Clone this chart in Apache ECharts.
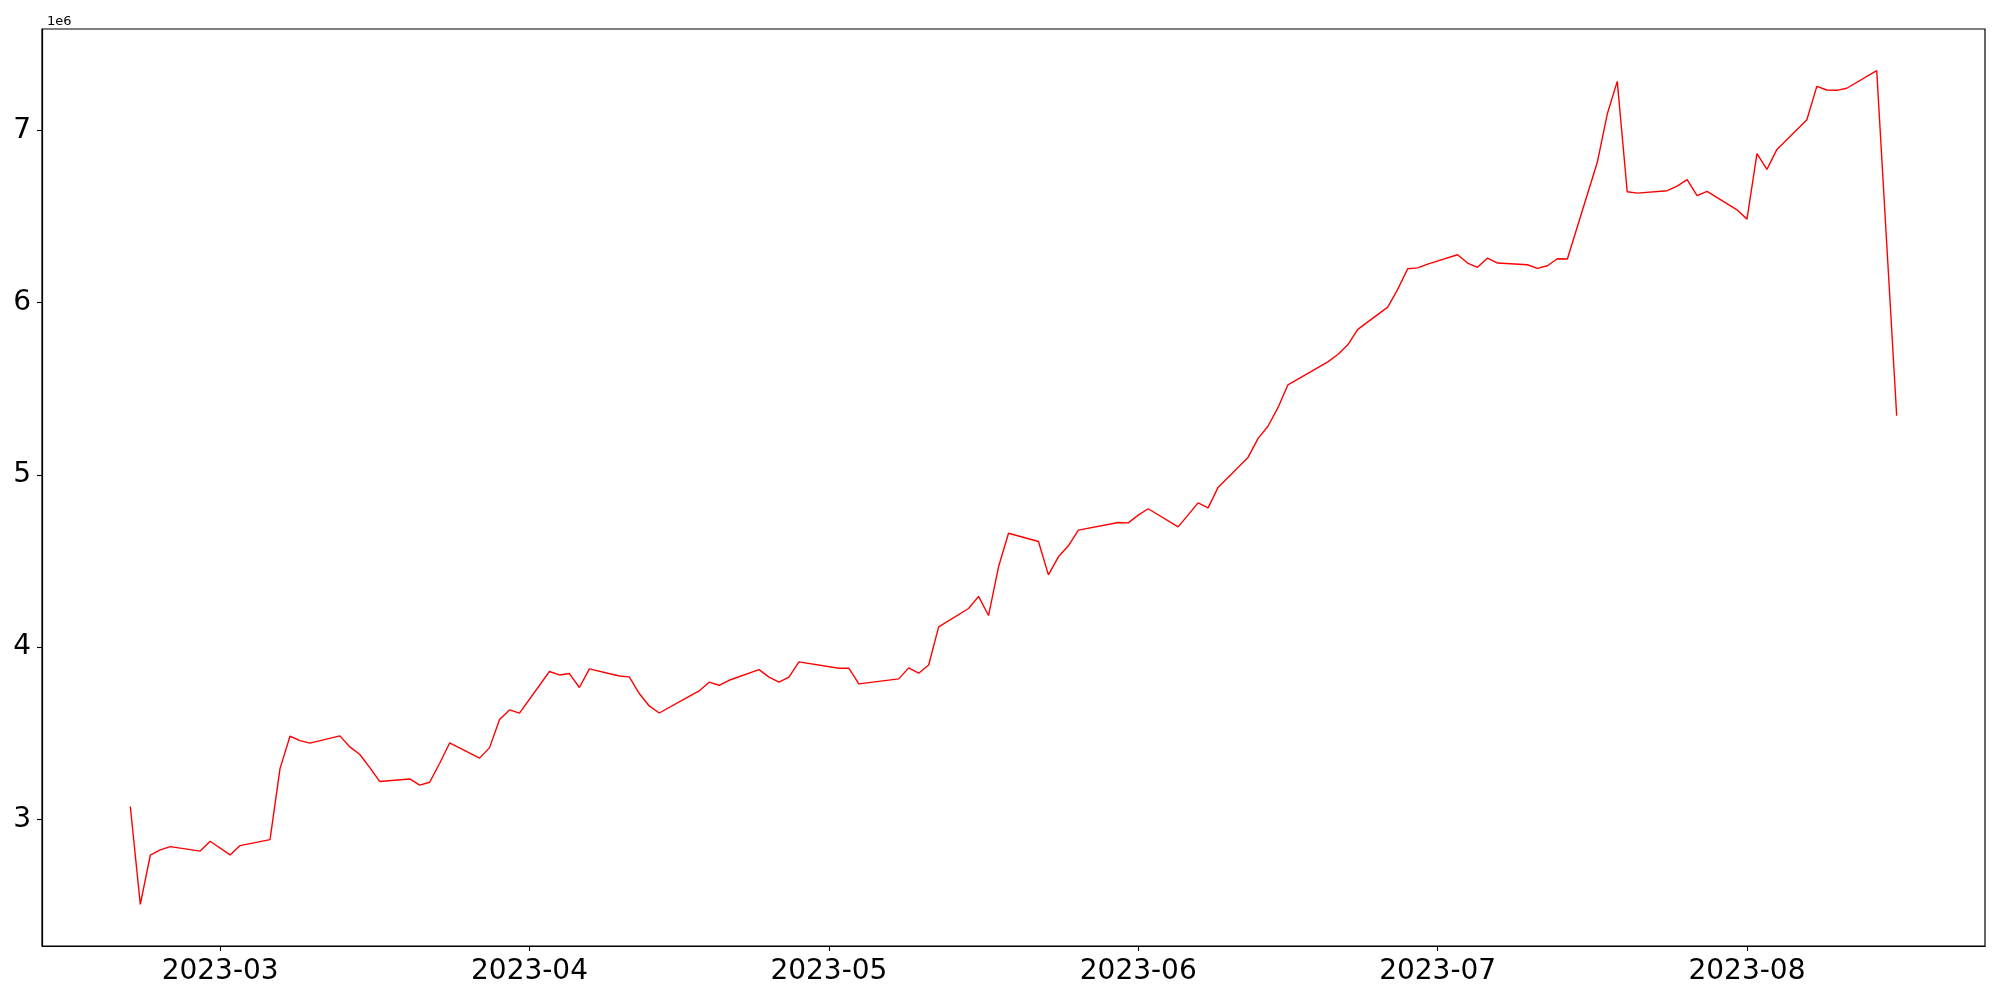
<!DOCTYPE html>
<html>
<head>
<meta charset="utf-8">
<script src="https://cdn.jsdelivr.net/npm/echarts@6/dist/echarts.min.js"></script>
<style>
html,body{margin:0;padding:0;background:#fff;}
#chart{width:2000px;height:1000px;}
</style>
</head>
<body>
<div id="chart"></div>
<script>
const dates = [
 '2023-02-20','2023-02-21','2023-02-22','2023-02-23','2023-02-24','2023-02-27','2023-02-28',
 '2023-03-02','2023-03-03','2023-03-06','2023-03-07','2023-03-08','2023-03-09','2023-03-10',
 '2023-03-13','2023-03-14','2023-03-15','2023-03-16','2023-03-17','2023-03-20','2023-03-21',
 '2023-03-22','2023-03-23','2023-03-24','2023-03-27','2023-03-28','2023-03-29','2023-03-30',
 '2023-03-31','2023-04-03','2023-04-04','2023-04-05','2023-04-06','2023-04-07','2023-04-10',
 '2023-04-11','2023-04-12','2023-04-13','2023-04-14','2023-04-17','2023-04-18','2023-04-19',
 '2023-04-20','2023-04-21','2023-04-24','2023-04-25','2023-04-26','2023-04-27','2023-04-28',
 '2023-05-02','2023-05-03','2023-05-04','2023-05-08','2023-05-09','2023-05-10','2023-05-11',
 '2023-05-12','2023-05-15','2023-05-16','2023-05-17','2023-05-18','2023-05-19','2023-05-22',
 '2023-05-23','2023-05-24','2023-05-25','2023-05-26','2023-05-30','2023-05-31','2023-06-01',
 '2023-06-02','2023-06-05','2023-06-07','2023-06-08','2023-06-09','2023-06-12','2023-06-13',
 '2023-06-14','2023-06-15','2023-06-16','2023-06-20','2023-06-21','2023-06-22','2023-06-23',
 '2023-06-26','2023-06-27','2023-06-28','2023-06-29','2023-06-30','2023-07-03','2023-07-04',
 '2023-07-05','2023-07-06','2023-07-07','2023-07-10','2023-07-11','2023-07-12','2023-07-13',
 '2023-07-14','2023-07-17','2023-07-18','2023-07-19','2023-07-20','2023-07-21','2023-07-24',
 '2023-07-25','2023-07-26','2023-07-27','2023-07-28','2023-07-31','2023-08-01','2023-08-02',
 '2023-08-03','2023-08-04','2023-08-07','2023-08-08','2023-08-09','2023-08-10','2023-08-11',
 '2023-08-14','2023-08-16'
];
const values = [
 3074000,2506000,2791000,2822000,2841000,2815000,2872000,
 2793000,2847000,2882000,3294000,3482000,3457000,3442000,
 3484000,3420000,3376000,3300000,3219000,3234000,3198000,
 3215000,3325000,3443000,3355000,3416000,3579000,3635000,
 3616000,3858000,3838000,3846000,3765000,3873000,3832000,
 3827000,3730000,3658000,3617000,3714000,3745000,3796000,
 3778000,3807000,3869000,3825000,3796000,3825000,3914000,
 3877000,3877000,3786000,3815000,3879000,3848000,3896000,
 4117000,4224000,4294000,4183000,4466000,4661000,4613000,
 4419000,4524000,4588000,4679000,4723000,4721000,4766000,
 4803000,4698000,4837000,4808000,4927000,5101000,5210000,
 5282000,5390000,5523000,5656000,5699000,5755000,5845000,
 5974000,6077000,6197000,6202000,6224000,6278000,6230000,
 6205000,6259000,6230000,6220000,6199000,6214000,6255000,
 6253000,6815000,7095000,7285000,6644000,6636000,6650000,
 6677000,6714000,6621000,6646000,6539000,6485000,6865000,
 6774000,6890000,7062000,7256000,7235000,7233000,7245000,
 7347000,5343000
];
const xTickDates = ['2023-03-01','2023-04-01','2023-05-01','2023-06-01','2023-07-01','2023-08-01'];
const yTicks = [3000000,4000000,5000000,6000000,7000000];

function ts(s){ const p = s.split('-').map(Number); return Date.UTC(p[0], p[1]-1, p[2]); }
const t0 = ts(dates[0]), t1 = ts(dates[dates.length-1]);
const xPad = (t1 - t0) * 0.05;
const vMin = Math.min(...values), vMax = Math.max(...values);
const yPad = (vMax - vMin) * 0.05;
const xTickTs = xTickDates.map(ts);
const font = 'DejaVu Sans';

const chart = echarts.init(document.getElementById('chart'), null, {renderer:'canvas'});
chart.setOption({
  animation: false,
  backgroundColor: '#fff',
  title: {
    text: '1e6', left: 42, top: 10,
    textStyle: {fontFamily: font, fontSize: 13, fontWeight: 'normal', color: '#000'}
  },
  grid: {
    left: 42, right: 15, top: 29, bottom: 54,
    show: true, borderColor: '#000', borderWidth: 1.2, backgroundColor: 'transparent'
  },
  xAxis: {
    type: 'value',
    min: t0 - xPad, max: t1 + xPad,
    splitLine: {show: false},
    axisLine: {show: true, onZero: false, lineStyle: {color: '#000', width: 1.2}},
    axisTick: {show: true, length: 5, lineStyle: {color: '#000', width: 1.1}, customValues: xTickTs},
    axisLabel: {
      show: true, margin: 12, fontFamily: font, fontSize: 28, color: '#000',
      customValues: xTickTs,
      formatter: function (v) {
        const d = new Date(v);
        const m = d.getUTCMonth() + 1;
        return d.getUTCFullYear() + '-' + (m < 10 ? '0' + m : m);
      }
    }
  },
  yAxis: {
    type: 'value',
    min: vMin - yPad, max: vMax + yPad,
    splitLine: {show: false},
    axisLine: {show: true, onZero: false, lineStyle: {color: '#000', width: 1.2}},
    axisTick: {show: true, length: 5, lineStyle: {color: '#000', width: 1.1}, customValues: yTicks},
    axisLabel: {
      show: true, margin: 11, fontFamily: font, fontSize: 28, color: '#000',
      customValues: yTicks,
      formatter: function (v) { return String(Math.round(v / 1e6)); }
    }
  },
  series: [{
    type: 'line',
    data: dates.map((d, i) => [ts(d), values[i]]),
    showSymbol: false,
    symbol: 'none',
    lineStyle: {color: '#ff0000', width: 1.4},
    itemStyle: {color: '#ff0000'}
  }]
});
</script>
</body>
</html>
